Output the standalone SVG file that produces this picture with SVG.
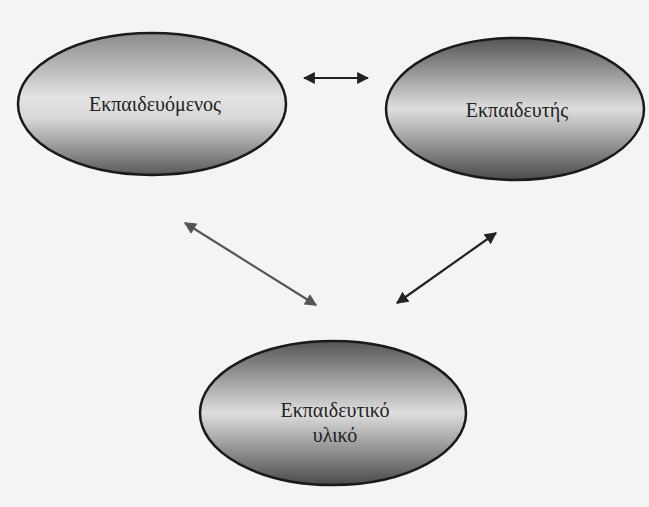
<svg xmlns="http://www.w3.org/2000/svg" width="649" height="507" viewBox="0 0 649 507">
<defs>
<linearGradient id="g1" x1="0" y1="0" x2="0" y2="1">
<stop offset="0" stop-color="#8a8a8a"/>
<stop offset="0.45" stop-color="#e2e2e2"/>
<stop offset="0.6" stop-color="#d8d8d8"/>
<stop offset="1" stop-color="#5a5a5a"/>
</linearGradient>
<linearGradient id="g2" x1="0" y1="0" x2="0" y2="1">
<stop offset="0" stop-color="#555"/>
<stop offset="0.5" stop-color="#dedede"/>
<stop offset="1" stop-color="#4a4a4a"/>
</linearGradient>
<marker id="ahk" viewBox="0 0 10 10" refX="9" refY="5" markerWidth="5.5" markerHeight="5.5" orient="auto-start-reverse" markerUnits="strokeWidth">
<path d="M0,0 L10,5 L0,10 z" fill="#222"/>
</marker>
<marker id="ahg" viewBox="0 0 10 10" refX="9" refY="5" markerWidth="5.5" markerHeight="5.5" orient="auto-start-reverse" markerUnits="strokeWidth">
<path d="M0,0 L10,5 L0,10 z" fill="#555"/>
</marker>
</defs>
<style>
.node ellipse{stroke:#1a1a1a;stroke-width:2.5}
.node text{font-family:"Liberation Serif","DejaVu Serif",serif;font-size:20px;fill:#222;text-anchor:middle}
.conn line{stroke-width:2.2;fill:none}
</style>
<rect width="649" height="507" fill="#f4f4f4"/>
<g id="node-learner" class="node">
<ellipse cx="152" cy="104" rx="134" ry="71" fill="url(#g1)"/>
<text x="155" y="111">Εκπαιδευόμενος</text>
</g>
<g id="node-trainer" class="node">
<ellipse cx="515" cy="109" rx="129" ry="71" fill="url(#g2)"/>
<text x="517" y="117">Εκπαιδευτής</text>
</g>
<g id="node-material" class="node">
<ellipse cx="333" cy="413" rx="133" ry="72" fill="url(#g2)"/>
<text x="335" y="417">Εκπαιδευτικό</text>
<text x="335" y="442">υλικό</text>
</g>
<g id="connectors" class="conn">
<line x1="304" y1="78" x2="368" y2="78" stroke="#222" marker-start="url(#ahk)" marker-end="url(#ahk)"/>
<line x1="185" y1="223" x2="316" y2="305" stroke="#555" marker-start="url(#ahg)" marker-end="url(#ahg)"/>
<line x1="496" y1="233" x2="397" y2="303" stroke="#222" marker-start="url(#ahk)" marker-end="url(#ahk)"/>
</g>
</svg>
